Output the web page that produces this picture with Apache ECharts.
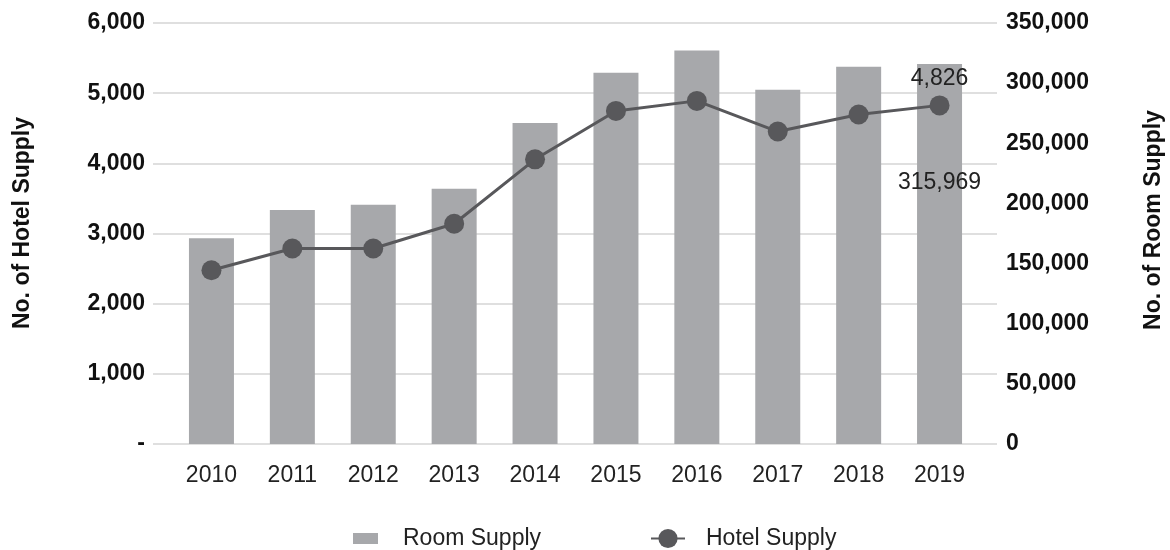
<!DOCTYPE html>
<html>
<head>
<meta charset="utf-8">
<script src="https://cdn.jsdelivr.net/npm/echarts@6/dist/echarts.min.js"></script>
<style>
  html, body { margin: 0; padding: 0; background: #ffffff; }
  #chart { width: 1170px; height: 550px; }
</style>
</head>
<body>
<div id="chart"></div>
<script>
// ---- data ----
const years = ['2010', '2011', '2012', '2013', '2014', '2015', '2016', '2017', '2018', '2019'];
const roomSupply = [171000, 194600, 198800, 212100, 266800, 308700, 327100, 294600, 313700, 315969];
const hotelSupply = [2476, 2786, 2786, 3139, 4057, 4747, 4890, 4453, 4696, 4826];
const hotelTicks = [0, 1000, 2000, 3000, 4000, 5000, 6000];
const roomTicks = [0, 50000, 100000, 150000, 200000, 250000, 300000, 350000];

const FONT = '"Liberation Sans", Arial, Helvetica, sans-serif';
const BAR = '#a7a8ab';
const LINE = '#58585b';
const fmt = v => Number(v).toLocaleString('en-US');
const last = years.length - 1;

const chart = echarts.init(document.getElementById('chart'), null, { renderer: 'canvas' });
chart.setOption({
  animation: false,
  backgroundColor: '#ffffff',
  textStyle: { fontFamily: FONT },
  grid: [
    { left: 153, right: 173, top: 23, bottom: 106 },
    { left: 171, right: 190, top: 23, bottom: 106 }
  ],
  xAxis: [
    { gridIndex: 0, type: 'value', show: false, min: 0, max: 1 },
    {
      gridIndex: 1, type: 'category', data: years,
      axisLine: { show: false }, axisTick: { show: false },
      axisLabel: { color: '#222', fontSize: 23, fontFamily: FONT, margin: 20 }
    }
  ],
  yAxis: [
    {
      gridIndex: 0, type: 'value', min: hotelTicks[0], max: hotelTicks[hotelTicks.length - 1],
      interval: hotelTicks[1] - hotelTicks[0],
      axisLabel: { show: false }, axisLine: { show: false }, axisTick: { show: false },
      splitLine: { show: true, lineStyle: { color: '#d4d4d4', width: 1.5 } }
    },
    {
      gridIndex: 1, type: 'value', position: 'left',
      min: hotelTicks[0], max: hotelTicks[hotelTicks.length - 1],
      interval: hotelTicks[1] - hotelTicks[0],
      axisLine: { show: false }, axisTick: { show: false }, splitLine: { show: false },
      axisLabel: {
        color: '#111', fontSize: 23, fontWeight: 'bold', fontFamily: FONT, margin: 26,
        formatter: v => (v === 0 ? '-' : fmt(v))
      }
    },
    {
      gridIndex: 1, type: 'value', position: 'right',
      min: roomTicks[0], max: roomTicks[roomTicks.length - 1],
      interval: roomTicks[1] - roomTicks[0],
      axisLine: { show: false }, axisTick: { show: false }, splitLine: { show: false },
      axisLabel: {
        color: '#111', fontSize: 23, fontWeight: 'bold', fontFamily: FONT, margin: 26,
        formatter: v => fmt(v)
      }
    }
  ],
  legend: [
    {
      data: ['Room Supply'], left: 348, top: 522,
      itemWidth: 25, itemHeight: 11, icon: 'rect',
      textStyle: { color: '#222', fontSize: 23, fontFamily: FONT, padding: [0, 0, 0, 20] }
    },
    {
      data: ['Hotel Supply'], left: 645, top: 522,
      itemWidth: 34, itemHeight: 24,
      textStyle: { color: '#222', fontSize: 23, fontFamily: FONT, padding: [0, 0, 0, 16] }
    }
  ],
  series: [
    {
      name: 'Room Supply', type: 'bar', xAxisIndex: 1, yAxisIndex: 2,
      data: roomSupply, barWidth: 45,
      itemStyle: { color: BAR },
      label: {
        show: true, position: 'insideTop', distance: 107,
        color: '#222', fontSize: 23, fontFamily: FONT,
        formatter: p => (p.dataIndex === last ? fmt(p.value) : '')
      },
      z: 2
    },
    {
      name: 'Hotel Supply', type: 'line', xAxisIndex: 1, yAxisIndex: 1,
      data: hotelSupply,
      symbol: 'circle', symbolSize: 20,
      lineStyle: { color: LINE, width: 3 },
      itemStyle: { color: LINE },
      label: {
        show: true, position: 'top', distance: 5,
        color: '#222', fontSize: 23, fontFamily: FONT,
        formatter: p => (p.dataIndex === last ? fmt(p.value) : '')
      },
      z: 3
    }
  ],
  graphic: [
    {
      type: 'text', x: 23, y: 223, rotation: Math.PI / 2,
      style: { text: 'No. of Hotel Supply', fill: '#111', font: 'bold 23px ' + FONT, textAlign: 'center', textVerticalAlign: 'middle' }
    },
    {
      type: 'text', x: 1154, y: 220, rotation: Math.PI / 2,
      style: { text: 'No. of Room Supply', fill: '#111', font: 'bold 23px ' + FONT, textAlign: 'center', textVerticalAlign: 'middle' }
    }
  ]
});
</script>
</body>
</html>
